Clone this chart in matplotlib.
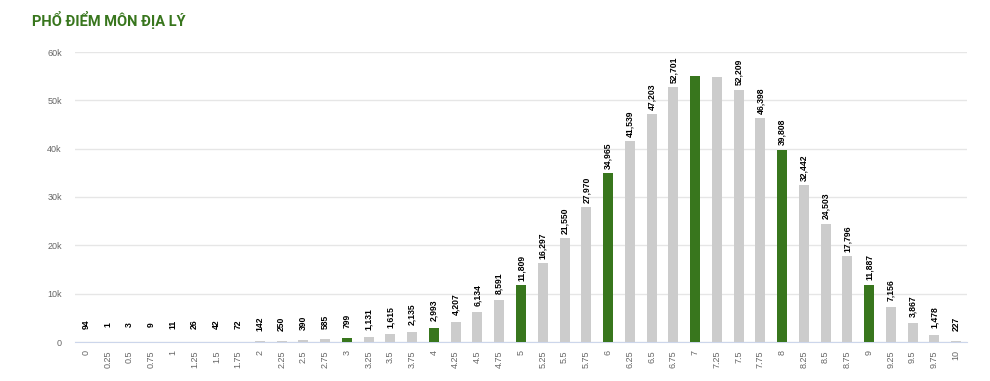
import numpy as np
import matplotlib.pyplot as plt

# Phổ điểm môn Địa lý
scores = ["0", "0.25", "0.5", "0.75", "1", "1.25", "1.5", "1.75", "2", "2.25",
          "2.5", "2.75", "3", "3.25", "3.5", "3.75", "4", "4.25", "4.5", "4.75",
          "5", "5.25", "5.5", "5.75", "6", "6.25", "6.5", "6.75", "7", "7.25",
          "7.5", "7.75", "8", "8.25", "8.5", "8.75", "9", "9.25", "9.5", "9.75", "10"]
counts = [94, 1, 3, 9, 11, 26, 42, 72, 142, 250,
          390, 585, 799, 1131, 1615, 2135, 2993, 4207, 6134, 8591,
          11809, 16297, 21550, 27970, 34965, 41539, 47203, 52701, 55000, 54800,
          52209, 46398, 39808, 32442, 24503, 17796, 11887, 7156, 3867, 1478, 227]
# điểm nguyên được tô xanh
highlight = ["3", "4", "5", "6", "7", "8", "9"]
# nhãn bị ẩn do chồng lên nhau
hidden_labels = ["7", "7.25"]
y_ticks = [0, 10000, 20000, 30000, 40000, 50000, 60000]
y_tick_labels = ["0", "10k", "20k", "30k", "40k", "50k", "60k"]

GREEN = "#38761d"
GRAY = "#cccccc"
TITLE_FONT = ["Roboto", "DejaVu Sans"]
LABEL_FONT = ["Liberation Sans", "DejaVu Sans"]

fig = plt.figure(figsize=(9.9, 3.81), dpi=100)
ax = fig.add_axes([75 / 990, 1 - 342 / 381, 892 / 990, 290 / 381])

x = np.arange(len(scores))
colors = [GREEN if s in highlight else GRAY for s in scores]
ax.bar(x, counts, width=0.46, color=colors, zorder=3)

# nhãn xoay, tâm cách đỉnh cột một khoảng cố định
for xi, s, c in zip(x, scores, counts):
    if s in hidden_labels:
        continue
    ax.annotate(f"{c:,}", (xi, c), xytext=(0, 12.5), textcoords="offset points",
                rotation=90, ha="center", va="center", fontsize=6.2,
                fontweight="bold", color="#000000", family=LABEL_FONT)

ax.set_xlim(-0.5, len(scores) - 0.5)
ax.set_ylim(0, 60000)
ax.set_xticks(x)
ax.set_xticklabels(scores, rotation=90, fontsize=6.5, color="#666666", family=LABEL_FONT)
ax.set_yticks(y_ticks)
ax.set_yticklabels(y_tick_labels, fontsize=6.5, color="#666666", family=LABEL_FONT)
ax.tick_params(axis="both", length=0)
ax.tick_params(axis="x", pad=6)
ax.tick_params(axis="y", pad=9.5)

ax.grid(axis="y", color="#e6e6e6", linewidth=1, zorder=0)
for side in ["top", "right", "left"]:
    ax.spines[side].set_visible(False)
ax.spines["bottom"].set_color("#ccd6eb")

fig.text(32 / 990, 1 - 20 / 381, "PHỔ ĐIỂM MÔN ĐỊA LÝ", fontsize=10.5,
         fontweight="bold", color=GREEN, va="center", ha="left", family=TITLE_FONT)

fig.savefig("out.png", dpi=100)
